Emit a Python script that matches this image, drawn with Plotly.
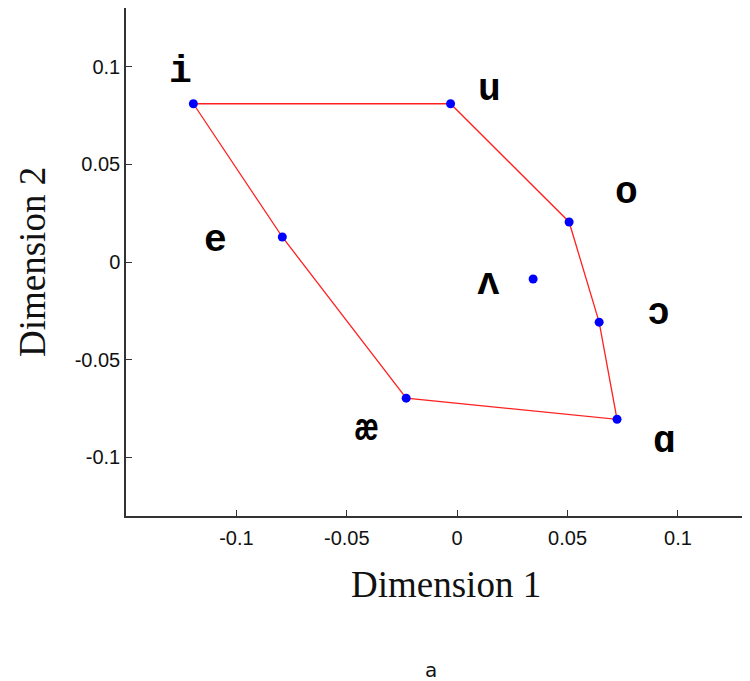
import plotly.graph_objects as go

# vowel positions in the 2-D space
vowels = ["i", "u", "o", "ɔ", "ɑ", "æ", "e", "ʌ"]
dim1 = [-0.1195, -0.003, 0.0507, 0.0643, 0.0724, -0.0231, -0.0792, 0.0344]
dim2 = [0.081, 0.081, 0.0205, -0.0308, -0.0805, -0.0697, 0.0128, -0.0087]

# where each vowel symbol is written
label_x = [-0.1253, 0.0145, 0.0765, 0.0910, 0.0941, -0.0412, -0.1095, 0.0140]
label_y = [0.0974, 0.0882, 0.0354, -0.0262, -0.0918, -0.0856, 0.0108, -0.0108]

# outline order (ʌ is left out)
outline = ["i", "u", "o", "ɔ", "ɑ", "æ", "e", "i"]

xticks = [-0.1, -0.05, 0, 0.05, 0.1]
yticks = [-0.1, -0.05, 0, 0.05, 0.1]
ticktext = ["-0.1", "-0.05", "0", "0.05", "0.1"]

ox = [dim1[vowels.index(v)] for v in outline]
oy = [dim2[vowels.index(v)] for v in outline]

fig = go.Figure()
fig.add_trace(go.Scatter(x=ox, y=oy, mode="lines",
                         line=dict(color="#ff2020", width=1.3),
                         hoverinfo="skip", showlegend=False))
fig.add_trace(go.Scatter(x=dim1, y=dim2, mode="markers", text=vowels,
                         marker=dict(color="#0000ff", size=9, symbol="circle"),
                         showlegend=False))

for v, lx, ly in zip(vowels, label_x, label_y):
    fig.add_annotation(x=lx, y=ly, text="<b>" + v + "</b>", showarrow=False,
                       xanchor="center", yanchor="middle",
                       font=dict(family="Liberation Mono, DejaVu Sans Mono", size=38, color="black"))

axis_common = dict(showline=True, linecolor="#333", linewidth=1.5, mirror=False,
                   ticks="inside", ticklen=6, tickcolor="#333", showgrid=False,
                   zeroline=False,
                   tickfont=dict(family="Liberation Sans, Arial", size=20, color="#111"))

fig.update_xaxes(range=[-0.15, 0.129], tickvals=xticks, ticktext=ticktext,
                 ticklabelstandoff=3, **axis_common)
fig.update_yaxes(range=[-0.13, 0.13], tickvals=yticks, ticktext=ticktext,
                 **axis_common)

fig.add_annotation(xref="paper", yref="paper", x=0.519, y=-0.134, text="Dimension 1",
                   showarrow=False, xanchor="center", yanchor="middle",
                   font=dict(family="Liberation Serif, Times New Roman", size=37, color="#111"))
fig.add_annotation(xref="paper", yref="paper", x=-0.1526, y=0.5, text="Dimension 2",
                   showarrow=False, textangle=-90, xanchor="center", yanchor="middle",
                   font=dict(family="Liberation Serif, Times New Roman", size=37, color="#111"))
fig.add_annotation(xref="paper", yref="paper", x=0.495, y=-0.303, text="a",
                   showarrow=False, xanchor="center", yanchor="middle",
                   font=dict(family="DejaVu Sans, Verdana", size=20, color="#111"))

# page body has an 8px margin, so the figure is shrunk to fit the window
fig.update_layout(width=742, height=673,
                  margin=dict(l=118, r=8, t=0, b=165),
                  plot_bgcolor="white", paper_bgcolor="white")

fig.write_html("out.html")
